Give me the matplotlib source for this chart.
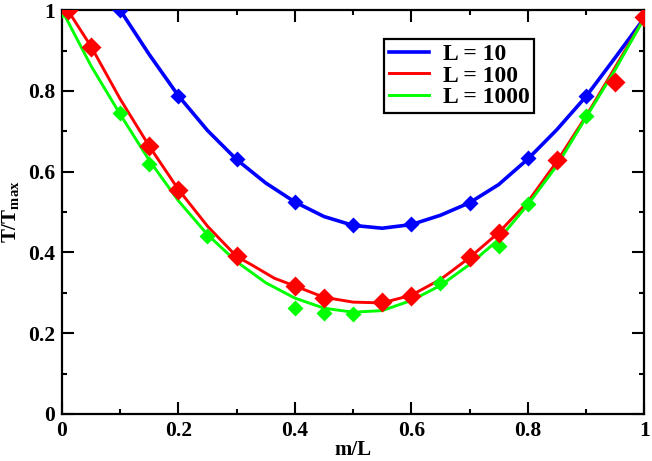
import numpy as np
import matplotlib as mpl
import matplotlib.pyplot as plt
from matplotlib.ticker import MultipleLocator, FormatStrFormatter

mpl.rcParams['font.family'] = 'Liberation Serif'
mpl.rcParams['font.weight'] = 'bold'
mpl.rcParams['mathtext.fontset'] = 'custom'
mpl.rcParams['mathtext.rm'] = 'Liberation Serif:bold'
mpl.rcParams['mathtext.bf'] = 'Liberation Serif:bold'

# smooth curves
curve_x = [0.0, 0.05, 0.1, 0.15, 0.2, 0.25, 0.3, 0.35, 0.4, 0.45, 0.5,
           0.55, 0.6, 0.65, 0.7, 0.75, 0.8, 0.85, 0.9, 0.95, 1.0]
curve_10_x = curve_x[2:]
curve_10_y = [1.0, 0.89, 0.788, 0.702, 0.63, 0.572, 0.525, 0.489, 0.467,
              0.46, 0.469, 0.492, 0.523, 0.568, 0.631, 0.704, 0.786, 0.882, 0.98]
curve_100_x = [0.01, 0.05, 0.1, 0.15, 0.2, 0.25, 0.3, 0.325, 0.365, 0.4, 0.45,
               0.5, 0.55, 0.6, 0.65, 0.7, 0.75, 0.8, 0.85, 0.9, 0.95, 1.0]
curve_100_y = [1.0, 0.91, 0.78, 0.663, 0.556, 0.465, 0.39, 0.37, 0.336,
               0.317, 0.289, 0.277, 0.275, 0.294, 0.333, 0.387, 0.449, 0.525,
               0.625, 0.737, 0.858, 0.98]
curve_1000_y = [1.0, 0.862, 0.742, 0.628, 0.528, 0.444, 0.377, 0.325, 0.287,
                0.262, 0.252, 0.256, 0.281, 0.318, 0.37, 0.432, 0.518, 0.615,
                0.734, 0.852, 0.98]

# data points
pts_10_x = [0.1, 0.2, 0.3, 0.4, 0.5, 0.6, 0.7, 0.8, 0.9, 1.0]
pts_10_y = [1.0, 0.788, 0.632, 0.525, 0.468, 0.471, 0.523, 0.634, 0.788, 0.98]
pts_100_x = [0.01, 0.05, 0.15, 0.2, 0.3, 0.4, 0.45, 0.55, 0.6, 0.7, 0.75,
             0.85, 0.95, 1.0]
pts_100_y = [1.0, 0.909, 0.664, 0.555, 0.39, 0.317, 0.287, 0.277, 0.293,
             0.389, 0.449, 0.63, 0.822, 0.984]
pts_1000_x = [0.0, 0.1, 0.15, 0.25, 0.4, 0.45, 0.5, 0.65, 0.75, 0.8, 0.9, 1.0]
pts_1000_y = [1.0, 0.746, 0.62, 0.44, 0.263, 0.25, 0.248, 0.325, 0.416,
              0.52, 0.738, 0.98]

fig = plt.figure(figsize=(6.52, 4.61), dpi=100)
ax = fig.add_axes([0.095, 0.102, 0.893, 0.876])

ax.plot(curve_10_x, curve_10_y, color='#0000ff', lw=2.6, label='L = 10', zorder=2)
ax.plot(curve_100_x, curve_100_y, color='#ff0000', lw=2.1, label='L = 100', zorder=2)
ax.plot(curve_x, curve_1000_y, color='#00ff00', lw=2.1, label='L = 1000', zorder=2)

ax.plot(pts_1000_x, pts_1000_y, 'D', color='#00ff00', ms=8.3, mec='none', zorder=3)
ax.plot(pts_10_x, pts_10_y, 'D', color='#0000ff', ms=8.3, mec='none', zorder=3)
ax.plot(pts_100_x, pts_100_y, 'D', color='#ff0000', ms=10, mec='none', zorder=4)

ax.set_xlim(0, 1)
ax.set_ylim(0, 1)
ax.xaxis.set_major_locator(MultipleLocator(0.2))
ax.xaxis.set_minor_locator(MultipleLocator(0.1))
ax.yaxis.set_major_locator(MultipleLocator(0.2))
ax.yaxis.set_minor_locator(MultipleLocator(0.1))
ax.xaxis.set_major_formatter(FormatStrFormatter('%g'))
ax.yaxis.set_major_formatter(FormatStrFormatter('%g'))
ax.tick_params(which='both', direction='in', top=True, right=True,
               width=1.5, labelsize=15.5)
ax.tick_params(which='major', length=8.6, pad=5)
ax.tick_params(which='minor', length=3.4)
for s in ax.spines.values():
    s.set_linewidth(1.6)

ax.set_xlabel('m/L', fontsize=15, fontweight='bold', labelpad=-1)
ax.set_ylabel(r'T/T$_{\rm max}$', fontsize=15, fontweight='bold', labelpad=4)

leg = ax.legend(loc='upper left', bbox_to_anchor=(0.553, 0.929), fontsize=17,
                fancybox=False, edgecolor='black', framealpha=1,
                handlelength=1.7, borderpad=0.2, labelspacing=0.0,
                handletextpad=0.6, borderaxespad=0)
leg.get_frame().set_linewidth(1.6)

fig.savefig('out.png', dpi=100)
